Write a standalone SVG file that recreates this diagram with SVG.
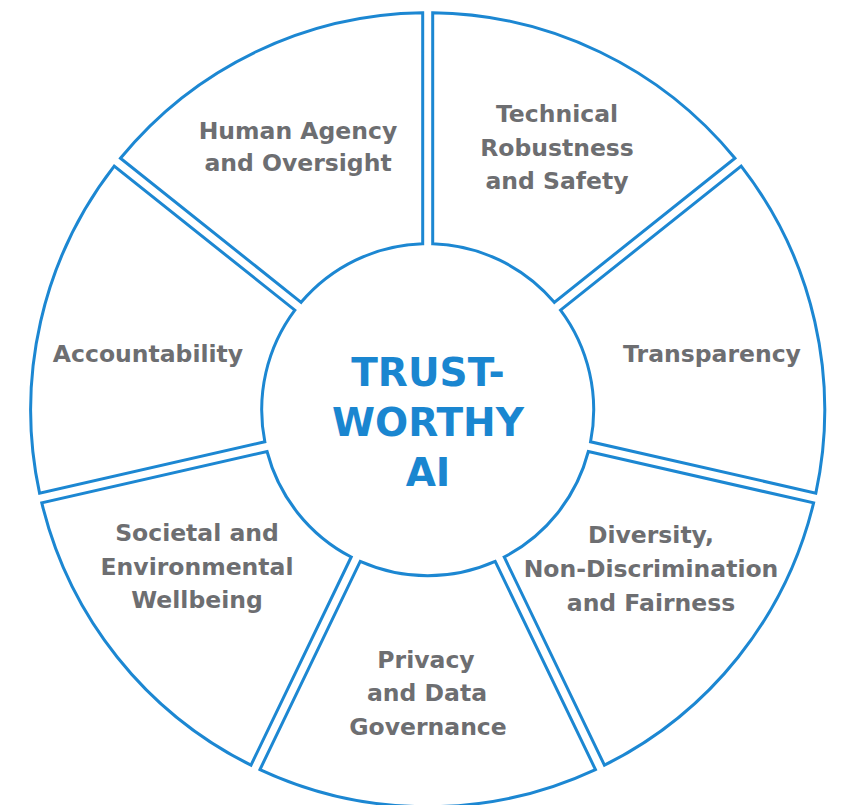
<svg xmlns="http://www.w3.org/2000/svg" width="841" height="805" viewBox="0 0 841 805">
<style>
.seg{fill:#ffffff;stroke:#1c87d2;stroke-width:3;stroke-linejoin:miter}
.lbl{font-family:"DejaVu Sans","Liberation Sans",sans-serif;font-weight:bold;font-size:23.5px;fill:#6d6e71;text-anchor:middle}
.ctr{font-family:"DejaVu Sans","Liberation Sans",sans-serif;font-weight:bold;font-size:39px;fill:#1a86d0;text-anchor:middle}
</style>
<rect width="841" height="805" fill="#ffffff"/>
<g id="connectors"></g>
<g id="technical">
<path class="seg" d="M 432.7 243.78 L 432.7 12.73 A 397 397 0 0 1 734.94 158.28 L 554.30 302.34 A 166 166 0 0 0 432.7 243.78 Z"/>
<text class="lbl" x="557" y="122">Technical</text>
<text class="lbl" x="557" y="156">Robustness</text>
<text class="lbl" x="557" y="189">and Safety</text>
</g>
<g id="transparency">
<path class="seg" d="M 560.54 310.16 L 741.18 166.10 A 397 397 0 0 1 815.83 493.16 L 590.57 441.75 A 166 166 0 0 0 560.54 310.16 Z"/>
<text class="lbl" x="712" y="362">Transparency</text>
</g>
<g id="diversity">
<path class="seg" d="M 588.35 451.50 L 813.61 502.91 A 397 397 0 0 1 604.45 765.19 L 504.20 557.02 A 166 166 0 0 0 588.35 451.50 Z"/>
<text class="lbl" x="651" y="543">Diversity,</text>
<text class="lbl" x="651" y="577">Non-Discrimination</text>
<text class="lbl" x="651" y="611">and Fairness</text>
</g>
<g id="privacy">
<path class="seg" d="M 495.19 561.36 L 595.44 769.53 A 397 397 0 0 1 259.97 769.53 L 360.22 561.36 A 166 166 0 0 0 495.19 561.36 Z"/>
<text class="lbl" x="426" y="668">Privacy</text>
<text class="lbl" x="427" y="701">and Data</text>
<text class="lbl" x="428" y="735">Governance</text>
</g>
<g id="societal">
<path class="seg" d="M 351.21 557.02 L 250.96 765.19 A 397 397 0 0 1 41.79 502.91 L 267.05 451.50 A 166 166 0 0 0 351.21 557.02 Z"/>
<text class="lbl" x="197" y="541">Societal and</text>
<text class="lbl" x="197" y="575">Environmental</text>
<text class="lbl" x="197" y="608">Wellbeing</text>
</g>
<g id="accountability">
<path class="seg" d="M 264.83 441.75 L 39.57 493.16 A 397 397 0 0 1 114.22 166.10 L 294.86 310.16 A 166 166 0 0 0 264.83 441.75 Z"/>
<text class="lbl" x="148" y="362">Accountability</text>
</g>
<g id="human">
<path class="seg" d="M 301.10 302.34 L 120.46 158.28 A 397 397 0 0 1 422.7 12.73 L 422.7 243.78 A 166 166 0 0 0 301.10 302.34 Z"/>
<text class="lbl" x="298" y="139">Human Agency</text>
<text class="lbl" x="298" y="171">and Oversight</text>
</g>
<g id="center">
<text class="ctr" x="428" y="386">TRUST-</text>
<text class="ctr" x="428" y="436">WORTHY</text>
<text class="ctr" x="428" y="486">AI</text>
</g>
</svg>
